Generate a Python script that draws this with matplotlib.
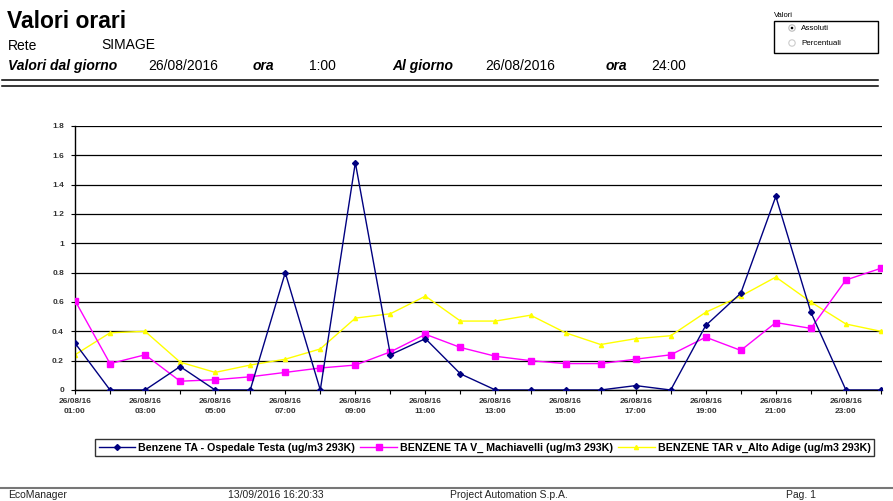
import matplotlib
matplotlib.use("Agg")
import matplotlib.pyplot as plt
from matplotlib.patches import Rectangle, Circle

plt.rcParams['font.family'] = ['Liberation Sans', 'DejaVu Sans']

hours = ['01:00', '02:00', '03:00', '04:00', '05:00', '06:00', '07:00', '08:00',
         '09:00', '10:00', '11:00', '12:00', '13:00', '14:00', '15:00', '16:00',
         '17:00', '18:00', '19:00', '20:00', '21:00', '22:00', '23:00', '24:00']
day = '26/08/16'

ospedale = [0.32, 0.00, 0.00, 0.16, 0.00, 0.00, 0.80, 0.00, 1.55, 0.24, 0.35, 0.11,
            0.00, 0.00, 0.00, 0.00, 0.03, 0.00, 0.44, 0.66, 1.32, 0.53, 0.00, 0.00]
machiavelli = [0.61, 0.18, 0.24, 0.06, 0.07, 0.09, 0.12, 0.15, 0.17, 0.26, 0.38, 0.29,
               0.23, 0.20, 0.18, 0.18, 0.21, 0.24, 0.36, 0.27, 0.46, 0.42, 0.75, 0.83]
alto_adige = [0.24, 0.39, 0.40, 0.19, 0.12, 0.17, 0.21, 0.28, 0.49, 0.52, 0.64, 0.47,
              0.47, 0.51, 0.39, 0.31, 0.35, 0.37, 0.53, 0.64, 0.77, 0.60, 0.45, 0.40]

names = ['Benzene TA - Ospedale Testa (ug/m3 293K)',
         'BENZENE TA V_ Machiavelli (ug/m3 293K)',
         'BENZENE TAR v_Alto Adige (ug/m3 293K)']

W, H = 893, 501
fig = plt.figure(figsize=(W / 100, H / 100), dpi=100)

# page overlay in pixel coordinates
page = fig.add_axes([0, 0, 1, 1], zorder=0)
page.set_xlim(0, W)
page.set_ylim(H, 0)
page.axis('off')

page.text(7, 21, 'Valori orari', fontsize=16.5, fontweight='bold', va='center')
page.text(8, 46, 'Rete', fontsize=10, va='center')
page.text(101, 45, 'SIMAGE', fontsize=10, va='center')
bi = dict(fontsize=10, fontweight='bold', fontstyle='italic', va='center')
nn = dict(fontsize=10, va='center')
page.text(8, 66, 'Valori dal giorno', **bi)
page.text(148, 66, '26/08/2016', **nn)
page.text(253, 66, 'ora', **bi)
page.text(309, 66, '1:00', **nn)
page.text(392, 66, 'Al giorno', **bi)
page.text(485, 66, '26/08/2016', **nn)
page.text(606, 66, 'ora', **bi)
page.text(651, 66, '24:00', **nn)
page.plot([2, 878], [80, 80], color='black', lw=1.1)
page.plot([2, 878], [86, 86], color='black', lw=1.1)

page.text(774, 15, 'Valori', fontsize=5.5, va='center')
page.add_patch(Rectangle((774, 21), 104, 32, fill=False, ec='black', lw=1))
page.add_patch(Circle((792, 28), 3.2, fc='white', ec='#bbbbbb', lw=0.8))
page.add_patch(Circle((792, 28), 1.3, fc='black', ec='none'))
page.add_patch(Circle((792, 43), 3.2, fc='white', ec='#cccccc', lw=0.8))
page.text(801, 28, 'Assoluti', fontsize=5.8, va='center')
page.text(801, 43, 'Percentuali', fontsize=5.8, va='center')

page.plot([0, W], [488, 488], color='#777777', lw=1.5)
ft = dict(fontsize=7.5, va='center', color='#222222')
page.text(8, 495, 'EcoManager', **ft)
page.text(228, 495, '13/09/2016 16:20:33', **ft)
page.text(450, 495, 'Project Automation S.p.A.', **ft)
page.text(786, 495, 'Pag. 1', **ft)

# chart
ax = fig.add_axes([75 / W, 1 - 390 / H, 807 / W, 264 / H], zorder=1)
ax.patch.set_alpha(0)
x = list(range(len(hours)))
l1, = ax.plot(x, ospedale, color='#000080', lw=1, marker='D', ms=3, zorder=4)
l2, = ax.plot(x, machiavelli, color='#ff00ff', lw=1, marker='s', ms=5, zorder=3)
l3, = ax.plot(x, alto_adige, color='#ffff00', lw=1, marker='^', ms=3, zorder=2)

ax.set_xlim(0, 23.03)
ax.set_ylim(0, 1.8)
ax.set_yticks([0, 0.2, 0.4, 0.6, 0.8, 1, 1.2, 1.4, 1.6, 1.8])
ax.set_yticklabels(['0', '0.2', '0.4', '0.6', '0.8', '1', '1.2', '1.4', '1.6', '1.8'])
ax.grid(axis='y', color='black', lw=0.9)
ax.set_axisbelow(True)
ax.set_xticks(x)
ax.set_xticklabels([day + '\n' + h if i % 2 == 0 else '' for i, h in enumerate(hours)])
for s in ['top', 'right']:
    ax.spines[s].set_visible(False)
ax.spines['left'].set_linewidth(1)
ax.spines['bottom'].set_linewidth(1)
ax.tick_params(axis='y', length=3, width=0.8, pad=5, labelsize=6, labelcolor='#333333')
ax.tick_params(axis='x', length=3, width=0.8, pad=3, labelsize=6, labelcolor='#333333')
for lab in ax.get_xticklabels() + ax.get_yticklabels():
    lab.set_fontweight('bold')
    lab.set_linespacing(1.5)

leg = fig.legend([l1, l2, l3], names, loc='upper left',
                 bbox_to_anchor=(90 / W, 1 - 434 / H), ncol=3,
                 fancybox=False, edgecolor='black', handlelength=3.4,
                 handletextpad=0.3, columnspacing=0.5, borderpad=0.3,
                 prop={'weight': 'bold', 'size': 7.7})
leg.get_frame().set_linewidth(1)

fig.savefig('out.png', dpi=100)
